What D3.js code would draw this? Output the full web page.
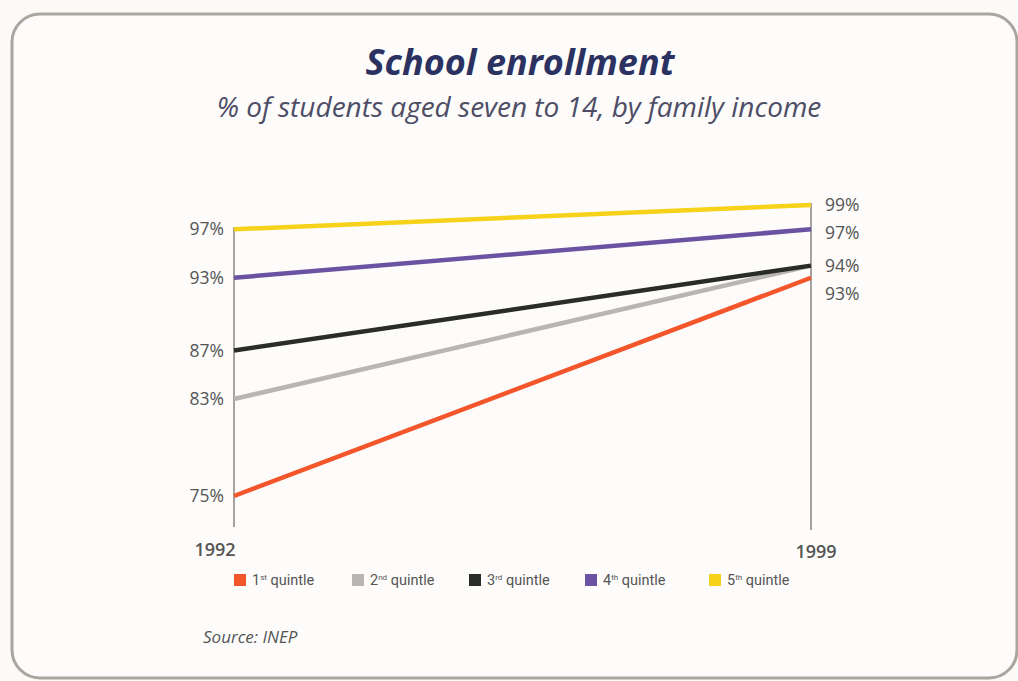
<!DOCTYPE html>
<html><head><meta charset="utf-8">
<script src="https://cdn.jsdelivr.net/npm/d3@7/dist/d3.min.js"></script>
<style>
html,body{margin:0;padding:0;background:#fbfaf6;}
svg{display:block;}
</style></head>
<body>
<script>
const years = ["1992", "1999"];
const seriesNames = ["1st quintle", "2nd quintle", "3rd quintle", "4th quintle", "5th quintle"];
const ordinals = [["1","st"],["2","nd"],["3","rd"],["4","th"],["5","th"]];
const values1992 = [75, 83, 87, 93, 97];
const values1999 = [93, 94, 94, 97, 99];
const colors = ["#f4562c", "#b8b5b3", "#2a2c2a", "#6b52a3", "#f6d21a"];
const leftLabels = ["97%", "93%", "87%", "83%", "75%"];
const rightLabels = ["99%", "97%", "94%", "93%"];

const W = 1018, H = 681;
const svg = d3.select("body").append("svg").attr("width", W).attr("height", H);

// frame
svg.append("rect").attr("x", 12).attr("y", 14).attr("width", 1005).attr("height", 664)
  .attr("rx", 28).attr("ry", 28).attr("fill", "#fdfcfa").attr("stroke", "#aaa59f").attr("stroke-width", 3);

svg.append("text").attr("x", 520).attr("y", 75).attr("text-anchor", "middle")
  .attr("font-family", "Open Sans").attr("font-weight", "bold").attr("font-style", "italic")
  .attr("font-size", 36).attr("fill", "#2b3262").text("School enrollment");
svg.append("text").attr("x", 519).attr("y", 117).attr("text-anchor", "middle")
  .attr("font-family", "Open Sans").attr("font-style", "italic")
  .attr("font-size", 28).attr("fill", "#4d4d66").text("% of students aged seven to 14, by family income");

const x = d3.scalePoint().domain(years).range([234, 811]);
const y = d3.scaleLinear().domain([75, 99]).range([496, 205]);

// vertical axes
svg.append("line").attr("x1", x("1992")).attr("x2", x("1992")).attr("y1", y(97) - 2).attr("y2", 527)
  .attr("stroke", "#8a8580").attr("stroke-width", 1.5);
svg.append("line").attr("x1", x("1999")).attr("x2", x("1999")).attr("y1", y(99) - 2).attr("y2", 530)
  .attr("stroke", "#8a8580").attr("stroke-width", 1.5);

// lines
const data = seriesNames.map((n, i) => ({name: n, color: colors[i], pts: [[years[0], values1992[i]], [years[1], values1999[i]]]}));
const line = d3.line().x(d => x(d[0])).y(d => y(d[1]));
svg.selectAll("path.series").data(data).join("path").attr("class", "series")
  .attr("d", d => line(d.pts)).attr("fill", "none").attr("stroke", d => d.color)
  .attr("stroke-width", 4.5).attr("stroke-linecap", "butt");

// label placement with minimum spacing
function placeLabels(labels, gap) {
  const ys = labels.map(d => y(parseFloat(d)));
  for (let i = 1; i < ys.length; i++) if (ys[i] - ys[i-1] < gap) ys[i] = ys[i-1] + gap;
  return labels.map((d, i) => ({t: d, y: ys[i]}));
}
const lblFont = "Open Sans";
svg.selectAll("text.ll").data(placeLabels(leftLabels, 28)).join("text").attr("class", "ll")
  .attr("x", x("1992") - 10).attr("y", d => d.y + 6).attr("text-anchor", "end")
  .attr("font-family", lblFont).attr("font-size", 17.5).attr("fill", "#555").text(d => d.t);
svg.selectAll("text.rl").data(placeLabels(rightLabels, 28)).join("text").attr("class", "rl")
  .attr("x", x("1999") + 14).attr("y", d => d.y + 6).attr("text-anchor", "start")
  .attr("font-family", lblFont).attr("font-size", 17.5).attr("fill", "#555").text(d => d.t);

// years
svg.append("text").attr("x", x("1992") - 19).attr("y", 556).attr("text-anchor", "middle")
  .attr("font-family", lblFont).attr("font-weight", 600).attr("font-size", 18).attr("fill", "#555").text(years[0]);
svg.append("text").attr("x", x("1999") + 5).attr("y", 558).attr("text-anchor", "middle")
  .attr("font-family", lblFont).attr("font-weight", 600).attr("font-size", 18).attr("fill", "#555").text(years[1]);

// legend
const legX = [234, 352, 469, 585, 709];
const lg = svg.selectAll("g.leg").data(data).join("g").attr("class", "leg")
  .attr("transform", (d, i) => `translate(${legX[i]},574)`);
lg.append("rect").attr("width", 12).attr("height", 12).attr("fill", d => d.color);
const lt = lg.append("text").attr("x", 18).attr("y", 11).attr("font-family", "Roboto")
  .attr("font-size", 14.5).attr("fill", "#555");
lt.append("tspan").text((d, i) => ordinals[i][0]);
lt.append("tspan").attr("font-size", 8).attr("dy", -5).text((d, i) => ordinals[i][1]);
lt.append("tspan").attr("dy", 5).text(" quintle");

svg.append("text").attr("x", 203).attr("y", 643).attr("font-family", "Open Sans").attr("font-style", "italic")
  .attr("font-size", 17).attr("fill", "#555").text("Source: INEP");
</script>
</body></html>
